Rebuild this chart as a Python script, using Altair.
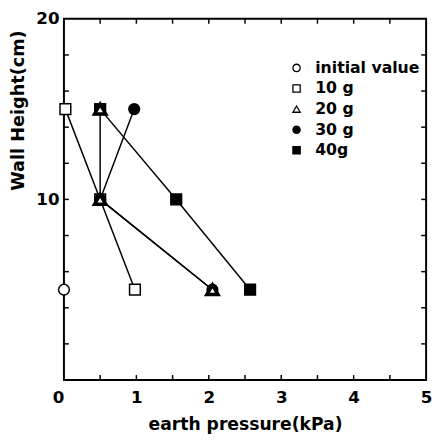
import altair as alt
import pandas as pd

series = ["initial value", "10 g", "20 g", "30 g", "40g"]
heights = [15, 10, 5]
init_x = [0.0]
init_y = [5]
g10_x = [0.02, 0.5, 0.98]
g20_x = [0.5, 0.5, 2.05]
g30_x = [0.97, 0.5, 2.05]
g40_x = [0.5, 1.55, 2.57]
shapes = ["circle", "square", "triangle-up", "circle", "square"]
fills = ["white", "white", "white", "black", "black"]

x_ticks = [0.5, 1.0, 1.5, 2.0, 2.5, 3.0, 3.5, 4.0, 4.5]
y_ticks = [2, 4, 6, 8, 10, 12, 14, 16, 18]
x_labels = [0, 1, 2, 3, 4, 5]
y_labels = [10, 20]

W, H = 369, 368

rows = []
rows.append({"series": series[0], "x": init_x[0], "y": init_y[0], "o": 0})
for name, xs in zip(series[1:], [g10_x, g20_x, g30_x, g40_x]):
    for i, (xv, yv) in enumerate(zip(xs, heights)):
        rows.append({"series": name, "x": xv, "y": yv, "o": i})
df = pd.DataFrame(rows)

font = "DejaVu Sans"
xs = alt.Scale(domain=[0, 5], nice=False, zero=False)
ys = alt.Scale(domain=[0, 20], nice=False, zero=False)

xax = alt.Axis(values=x_labels, ticks=False, domain=False, grid=False, labelFontSize=17,
               labelFont=font, labelFontWeight="bold", labelColor="black", labelPadding=10,
               labelAlign={"condition": {"test": "datum.value === 0", "value": "right"}, "value": "center"},
               title="earth pressure(kPa)",
               titleFont=font, titleFontSize=17.5, titleFontWeight="bold", titleColor="black",
               titlePadding=10, format="d")
yax = alt.Axis(values=y_labels, ticks=False, domain=False, grid=False, labelFontSize=17,
               labelFont=font, labelFontWeight="bold", labelColor="black", labelPadding=5,
               title="Wall Height(cm)",
               titleFont=font, titleFontSize=18, titleFontWeight="bold", titleColor="black",
               titleX=-46, titleY=93, titleAngle=-90, titleAlign="center", titleBaseline="middle",
               format="d")

leg = alt.Legend(title=None, orient="none", legendX=229, legendY=42, labelFont=font,
                 labelFontSize=16, labelFontWeight="bold", labelColor="black", symbolSize=55,
                 symbolStrokeWidth=1.3, rowPadding=5, labelOffset=11)

base = alt.Chart(df)

lines = base.transform_filter(alt.datum.series != "initial value").mark_line(
    color="black", strokeWidth=1.5).encode(
    x=alt.X("x:Q", scale=xs, axis=xax),
    y=alt.Y("y:Q", scale=ys, axis=yax),
    detail="series:N",
    order="o:Q",
)

shape_enc = alt.Shape("series:N", scale=alt.Scale(domain=series, range=shapes), legend=leg)
fill_enc = alt.Fill("series:N", scale=alt.Scale(domain=series, range=fills), legend=leg)
stroke_enc = alt.Stroke("series:N", scale=alt.Scale(domain=series, range=["black"] * 5), legend=leg)

points = base.mark_point(filled=True, size=120, strokeWidth=1.5, opacity=1).encode(
    x="x:Q", y="y:Q", shape=shape_enc, fill=fill_enc, stroke=stroke_enc)

tri = base.transform_filter(alt.datum.series == "20 g").mark_point(
    filled=True, size=130, strokeWidth=3.5, opacity=1).encode(
    x="x:Q", y="y:Q", shape=shape_enc, fill=fill_enc, stroke=stroke_enc)

xt = pd.DataFrame({"v": x_ticks})
yt = pd.DataFrame({"v": y_ticks})
tick_style = dict(color="black", strokeWidth=1.5)
tb = alt.Chart(xt).mark_rule(**tick_style).encode(x="v:Q", y=alt.value(H), y2=alt.value(H - 5))
tt = alt.Chart(xt).mark_rule(**tick_style).encode(x="v:Q", y=alt.value(0), y2=alt.value(5))
tl = alt.Chart(yt).mark_rule(**tick_style).encode(y="v:Q", x=alt.value(0), x2=alt.value(5))
tr = alt.Chart(yt).mark_rule(**tick_style).encode(y="v:Q", x=alt.value(W), x2=alt.value(W - 5))

chart = alt.layer(tb, tt, tl, tr, lines, points, tri).properties(
    width=W, height=H,
    background="white",
    autosize=alt.AutoSizeParams(type="none"),
    padding={"left": 57, "top": 7, "right": 6, "bottom": 51},
).configure_view(stroke="black", strokeWidth=2)

chart.save("out.html", embed_options={"renderer": "svg", "actions": False})
